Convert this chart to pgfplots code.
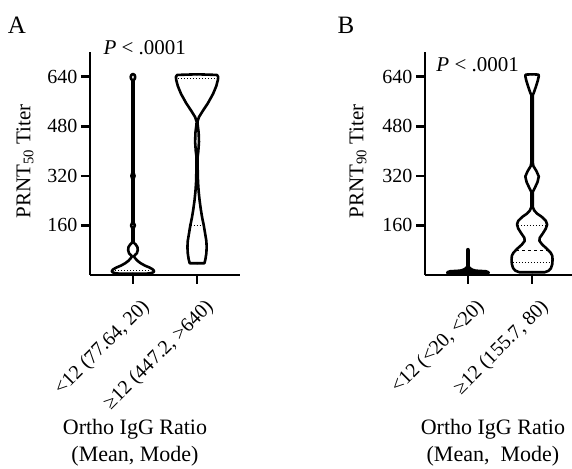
\documentclass[border=0pt]{standalone}
\usepackage{fontspec}
\setmainfont{Liberation Serif}
\usepackage{pgfplots}
\usepackage{pgfplotstable}
\pgfplotsset{compat=1.18}

% violin outlines: y value and half width (axis units)
\pgfplotstableread{
y w
4 0
4 0.20
6 0.28
9 0.32
13 0.33
18 0.31
24 0.26
30 0.19
38 0.12
46 0.07
54 0.035
60 0.015
64 0.03
70 0.06
80 0.075
90 0.07
98 0.045
104 0.015
110 0.008
150 0.008
160 0.03
170 0.008
310 0.008
320 0.025
330 0.008
628 0.008
634 0.03
640 0.035
646 0.025
649 0
}\Aone
\pgfplotstableread{
y w
38 0
38 0.115
50 0.13
70 0.145
90 0.15
110 0.145
135 0.125
160 0.105
185 0.08
210 0.06
240 0.04
270 0.025
300 0.015
340 0.01
380 0.008
400 0.02
430 0.03
460 0.025
485 0.01
495 0.006
510 0.03
530 0.09
555 0.17
585 0.25
610 0.30
630 0.325
640 0.33
646 0.31
648 0
}\Atwo
\pgfplotstableread{
y w
4 0
4 0.28
6 0.32
9 0.32
12 0.28
14 0.12
17 0.07
22 0.03
28 0.008
82 0.008
84 0
}\Bone
\pgfplotstableread{
y w
9 0
9 0.20
14 0.26
22 0.295
35 0.315
50 0.32
62 0.315
72 0.29
85 0.23
98 0.16
110 0.115
120 0.12
135 0.17
150 0.215
163 0.235
175 0.215
188 0.15
198 0.08
208 0.035
220 0.01
268 0.01
280 0.04
300 0.085
318 0.105
335 0.07
352 0.02
365 0.01
580 0.01
590 0.03
608 0.06
628 0.09
642 0.105
647 0.1
648 0
}\Btwo

\newcommand{\tkf}{\fontsize{20}{22}\selectfont}
\newcommand{\xkf}{\fontsize{20}{22}\selectfont}

\pgfplotsset{
  violinaxis/.style={
    scale only axis, width=150pt, height=223pt,
    xmin=0.33, xmax=2.67, ymin=0, ymax=720,
    axis x line*=bottom, axis y line*=left,
    axis line style={line width=2.6pt},
    xtick={1,2}, ytick={160,320,480,640},
    tick style={line width=2.6pt, black},
    tick align=outside, major tick length=9pt,
    /pgf/number format/assume math mode=true,
    yticklabel={\tkf\pgfmathprintnumber{\tick}},
    xticklabel style={rotate=45, anchor=north east, xshift=-1pt, yshift=-11pt},
    ylabel style={font=\fontsize{21}{24}\selectfont, anchor=center},
    xlabel style={font=\fontsize{22}{27}\selectfont, align=center, anchor=center},
    clip=false,
  },
  vio/.style={black, line width=2.6pt, line join=round, line cap=round, no markers},
  med/.style={black, line width=1pt, dashed, no markers},
  qrt/.style={black, line width=1pt, dotted, no markers},
}

\begin{document}
\begin{tikzpicture}
\useasboundingbox (0,0) rectangle (572pt,468pt);

\begin{axis}[violinaxis, at={(90pt,193pt)}, anchor=south west,
  xticklabels={{\xkf <12 (77.64, 20)},{\xkf ≥12 (447.2, >640)}},
  ylabel={PRNT\textsubscript{50} Titer},
  ylabel style={at={(axis description cs:-0.433,0.51)}},
  xlabel={Ortho IgG Ratio\\(Mean, Mode)},
  xlabel style={at={(axis description cs:0.3,-0.753)}},
]
\addplot[vio] table[x expr=1+\thisrow{w}, y=y] {\Aone};
\addplot[vio] table[x expr=1-\thisrow{w}, y=y] {\Aone};
\addplot[qrt] coordinates {(0.72,14) (1.28,14)};
\addplot[vio] table[x expr=2+\thisrow{w}, y=y] {\Atwo};
\addplot[vio] table[x expr=2-\thisrow{w}, y=y] {\Atwo};
\addplot[qrt] coordinates {(1.9,160) (2.1,160)};
\addplot[qrt] coordinates {(1.7,636) (2.3,636)};
\node[anchor=west, font=\fontsize{21}{24}\selectfont] at (axis description cs:0.067,1.018) {\textit{P} < .0001};
\node[font=\fontsize{25}{28}\selectfont] at (axis description cs:-0.487,1.121) {A};
\end{axis}

\begin{axis}[violinaxis, at={(425pt,193pt)}, anchor=south west,
  xticklabels={{\xkf <12 (<20, <20)},{\xkf ≥12 (155.7, 80)}},
  ylabel={PRNT\textsubscript{90} Titer},
  ylabel style={at={(axis description cs:-0.447,0.51)}},
  xlabel={Ortho IgG Ratio\\(Mean,\ \ Mode)},
  xlabel style={at={(axis description cs:0.453,-0.753)}},
]
\addplot[vio, fill=black] table[x expr=1+\thisrow{w}, y=y] {\Bone};
\addplot[vio, fill=black] table[x expr=1-\thisrow{w}, y=y] {\Bone};
\addplot[vio] table[x expr=2+\thisrow{w}, y=y] {\Btwo};
\addplot[vio] table[x expr=2-\thisrow{w}, y=y] {\Btwo};
\addplot[qrt] coordinates {(1.78,160) (2.22,160)};
\addplot[med] coordinates {(1.75,80) (2.25,80)};
\addplot[qrt] coordinates {(1.7,40) (2.3,40)};
\node[anchor=west, font=\fontsize{21}{24}\selectfont] at (axis description cs:0.053,0.942) {\textit{P} < .0001};
\node[font=\fontsize{25}{28}\selectfont] at (axis description cs:-0.527,1.121) {B};
\end{axis}
\end{tikzpicture}
\end{document}
